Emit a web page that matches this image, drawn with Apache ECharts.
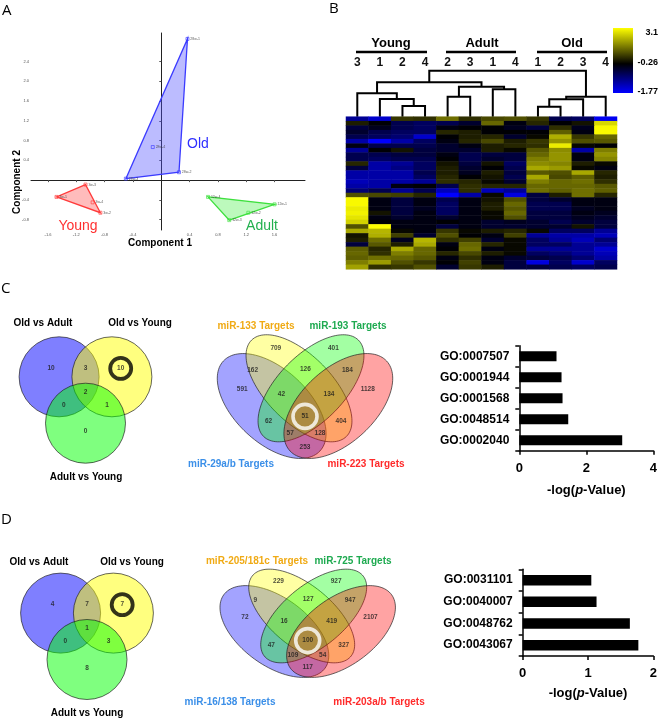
<!DOCTYPE html>
<html>
<head>
<meta charset="utf-8">
<script src="https://cdn.jsdelivr.net/npm/echarts@6/dist/echarts.min.js"></script>
<style>
  html, body { margin: 0; padding: 0; background: #fff; }
  #chart { width: 660px; height: 719px; }
</style>
</head>
<body>
<div id="chart"></div>
<script>
// ---------- A: PCA scores (component 1, component 2, sample) ----------
const oldPoints = [[0.37, 2.86, '28w-1'], [0.25, 0.16, '28w-2'], [-0.50, 0.03, '28w-3'], [-0.12, 0.67, '28w-4']]
const youngPoints = [[-1.48, -0.34, '3w-1'], [-0.86, -0.66, '3w-2'], [-1.07, -0.09, '3w-3'], [-0.97, -0.45, '3w-4']]
const adultPoints = [[1.60, -0.49, '12w-1'], [1.23, -0.66, '12w-2'], [0.96, -0.81, '12w-3'], [0.66, -0.34, '12w-4']]
const pcaXTicks = [-1.6, -1.2, -0.8, -0.4, 0.4, 0.8, 1.2, 1.6]
const pcaYTicks = [-0.8, -0.4, 0.4, 0.8, 1.2, 1.6, 2.0, 2.4]

// ---------- B: heatmap ----------
const sampleIds = ['Y3', 'Y1', 'Y2', 'Y4', 'A2', 'A3', 'A1', 'A4', 'O1', 'O2', 'O3', 'O4']
// dendrogram merges: [left node, right node, height]; leaves are 0..11, merge k is node 12+k
const dendroMerges = [
  [2, 3, 10.7], [1, 12, 17.7], [0, 13, 23.4],
  [4, 5, 20], [6, 7, 27.4], [15, 16, 30],
  [14, 17, 34.4],
  [8, 9, 10], [19, 10, 17.4], [20, 11, 20],
  [18, 21, 46]
]
const heatValues = [
  [-1.2, -1.5, 0.3, 0.2, 1.0, 0.2, 0.5, 0.6, 0.3, -0.8, -0.9, -1.7],
  [0.0, -0.3, -0.8, -0.9, -0.8, -0.6, 0.9, -0.4, 0.1, -0.3, -0.1, 2.5],
  [-0.7, -0.5, -0.8, -0.9, -0.4, -0.3, -0.3, -0.5, -0.7, 0.2, -0.5, 3.0],
  [-0.6, -0.8, -0.9, -0.9, 0.1, 0.0, -0.3, -0.3, -0.3, 0.8, -0.4, 3.0],
  [-0.8, -0.9, -1.0, -1.5, -0.3, 0.0, 0.1, -0.6, -0.2, 1.9, 0.3, 0.9],
  [-1.3, -1.77, -1.3, -0.9, -0.4, 0.1, 0.5, 0.0, 0.3, 1.5, 0.6, 0.7],
  [-0.4, -0.8, -0.8, -0.8, -0.6, -0.4, 0.0, 0.1, 0.2, 2.8, -0.2, -0.3],
  [-1.2, -0.3, -0.1, -0.7, -0.6, -0.6, 0.0, -0.2, 0.7, 1.4, -1.3, 1.2],
  [-0.8, -0.8, -0.7, -0.7, -0.4, -0.8, -0.7, -0.7, 0.9, 1.5, -0.4, 1.5],
  [-0.8, -0.9, -0.8, -0.8, -0.3, -0.8, -0.6, -0.7, 1.2, 1.5, -0.4, 1.3],
  [0.1, -1.3, -1.2, -0.9, -0.1, -0.7, -0.1, -0.9, 1.4, 1.3, 0.0, -0.2],
  [-0.7, -1.3, -1.1, -0.9, 0.0, -0.6, -0.3, -0.8, 1.8, 1.6, -0.2, -0.4],
  [-1.3, -1.3, -1.3, -0.8, 0.0, -0.5, 0.0, -0.7, 0.7, 0.6, 1.8, 0.1],
  [-1.3, -1.3, -1.3, -0.9, 0.1, -0.3, -0.1, -0.8, 1.8, 0.5, 0.8, 0.0],
  [-1.4, -1.3, -1.3, -1.2, 0.2, 0.1, -0.2, -0.6, 1.2, 0.9, 1.0, 0.2],
  [-1.3, -1.3, -0.4, -0.3, -0.8, 0.2, 0.1, 0.1, 0.9, 0.9, 0.9, 0.7],
  [-1.0, -0.8, -1.2, -0.8, -1.4, 0.2, -1.4, -1.2, 1.0, 0.8, 1.0, 0.8],
  [0.6, 0.5, 0.4, 0.1, -1.77, -1.3, -0.2, -1.6, -0.7, 0.0, 1.0, 0.1],
  [3.0, -0.4, -0.7, -0.4, -0.8, -0.4, -0.1, 0.6, -0.7, -0.6, -0.4, -0.4],
  [3.0, -0.4, -0.7, -0.4, -0.9, -0.4, 0.0, 0.9, -0.8, -0.8, -0.4, -0.4],
  [2.8, -0.4, -0.7, -0.5, -0.9, -0.4, 0.0, 0.7, -0.8, -0.8, -0.5, -0.4],
  [2.9, -0.1, -0.7, -0.4, -0.9, -0.4, -0.2, 0.9, -0.7, -0.7, -0.4, -0.5],
  [2.7, -0.4, -0.6, -0.4, -0.6, -0.4, -0.2, 0.6, -0.7, -0.7, -0.5, -0.6],
  [2.4, -0.3, -0.4, -0.4, -0.3, -0.4, -0.6, -0.5, -0.6, -0.8, -0.6, -0.7],
  [0.6, 3.1, -0.4, -0.4, -0.7, -0.4, -0.6, -0.6, -0.6, -0.6, -0.1, -0.7],
  [1.8, 2.0, -0.2, -0.4, 0.3, -0.2, 0.0, 0.1, -0.2, -0.9, -0.9, -1.2],
  [-0.1, 1.9, 0.4, -0.6, 0.6, -0.3, -0.4, 0.4, -1.2, -1.3, -1.3, -1.4],
  [0.0, 1.0, -0.5, 2.0, 0.2, 0.4, -0.6, -0.2, -0.9, -1.2, -1.4, -1.0],
  [-0.7, 0.7, 0.0, 1.8, -0.4, 0.9, 0.1, -0.2, -0.9, -0.9, -1.2, -1.2],
  [0.8, 0.1, 1.8, 0.9, -0.3, 1.0, -0.4, -0.2, -1.2, -1.2, -1.2, -1.5],
  [0.9, 0.2, 1.2, 0.9, 0.1, 0.5, 0.0, -0.2, -0.9, -1.0, -1.2, -1.4],
  [0.8, 1.0, 0.9, 0.7, -0.4, 0.2, -0.4, -0.6, -0.7, -0.8, -1.0, -1.3],
  [1.2, 1.6, 0.6, 0.3, -0.3, 0.4, -0.4, -0.7, -1.6, -0.9, -1.5, -0.9],
  [1.7, 0.2, 0.3, 0.6, -0.6, 0.3, 0.0, -0.7, -0.7, -0.8, -0.9, -0.8]
]
const heatMin = -1.77, heatMid = -0.26, heatMax = 3.1

// ---------- C / D: Venn counts ----------
// 3-set order: OA only, OA&OY, OY only, all, OA&AY, OY&AY, AY only
const venn3C = [10, 3, 10, 2, 0, 1, 0]
const venn3D = [4, 7, 7, 1, 0, 3, 8]
// 4-set order: A, B, C, D only, AB, BC, CD, ABC, BCD, AC, ABCD, BD, ACD, ABD, AD
const venn4C = [591, 709, 401, 1128, 162, 126, 184, 42, 134, 62, 51, 404, 57, 128, 253]
const venn4D = [72, 229, 927, 2107, 9, 127, 947, 16, 419, 47, 100, 327, 109, 54, 117]
const goCatsC = ['GO:0007507', 'GO:0001944', 'GO:0001568', 'GO:0048514', 'GO:0002040']
const goValsC = [1.11, 1.26, 1.29, 1.46, 3.07]
const goCatsD = ['GO:0031101', 'GO:0040007', 'GO:0048762', 'GO:0043067']
const goValsD = [1.05, 1.13, 1.64, 1.77]

// ---------- layout of the venn shapes (unit space) ----------
const v3Circles = [[-0.66, 0.38, 1, 'rgba(0,0,255,0.5)'], [0.66, 0.38, 1, 'rgba(255,255,0,0.5)'], [0, -0.78, 1, 'rgba(0,255,0,0.5)']]
const v3Spots = [[-0.86, 0.59], [0, 0.59], [0.88, 0.59], [0, 0], [-0.54, -0.33], [0.54, -0.33], [0, -0.99]]
const v4Ellipses = [
  [-0.833, 0, 1.65, 0.92, -43, 'rgba(0,0,255,0.36)'],
  [-0.15, 0.443, 1.69, 0.83, -45.5, 'rgba(255,255,0,0.36)'],
  [0.15, 0.443, 1.69, 0.83, 45.5, 'rgba(0,255,0,0.36)'],
  [0.833, 0, 1.65, 0.92, 43, 'rgba(255,0,0,0.36)']
]
const v4Spots = [[-1.57, 0.41], [-0.73, 1.44], [0.71, 1.44], [1.57, 0.41], [-1.31, 0.9], [0.01, 0.93], [1.06, 0.9],
  [-0.59, 0.29], [0.6, 0.29], [-0.91, -0.38], [0, -0.26], [0.9, -0.38], [-0.37, -0.69], [0.375, -0.69], [0, -1.02]]

const FONT = '"Liberation Sans", Arial, sans-serif'

function convexHull(pts) {
  const p = pts.map(d => [d[0], d[1]]).sort((a, b) => a[0] - b[0] || a[1] - b[1])
  const cross = (o, a, b) => (a[0] - o[0]) * (b[1] - o[1]) - (a[1] - o[1]) * (b[0] - o[0])
  const lower = [], upper = []
  for (const q of p) { while (lower.length >= 2 && cross(lower[lower.length - 2], lower[lower.length - 1], q) <= 0) lower.pop(); lower.push(q) }
  for (const q of p.slice().reverse()) { while (upper.length >= 2 && cross(upper[upper.length - 2], upper[upper.length - 1], q) <= 0) upper.pop(); upper.push(q) }
  return lower.slice(0, -1).concat(upper.slice(0, -1))
}

function heatColor(v) {
  if (v < heatMid) {
    const t = Math.pow(Math.min(1, (heatMid - v) / (heatMid - heatMin)), 1.15)
    return 'rgb(0,0,' + Math.round(255 * t) + ')'
  }
  const t = Math.pow(Math.min(1, (v - heatMid) / (heatMax - heatMid)), 0.85)
  const c = Math.round(255 * t)
  return 'rgb(' + c + ',' + c + ',0)'
}
const heatStops = []
for (let i = 0; i < 64; i++) heatStops.push(heatColor(heatMin + (heatMax - heatMin) * i / 63))

// node positions for the dendrogram
function nodeAt(id) {
  if (id < sampleIds.length) return [id, 0]
  const m = dendroMerges[id - sampleIds.length]
  return [(nodeAt(m[0])[0] + nodeAt(m[1])[0]) / 2, m[2]]
}

const pcaGroups = [
  { pts: oldPoints, stroke: '#3b3bff', fill: 'rgba(80,80,255,0.38)' },
  { pts: youngPoints, stroke: '#ff3b3b', fill: 'rgba(255,80,80,0.38)' },
  { pts: adultPoints, stroke: '#3ee03e', fill: 'rgba(80,240,80,0.38)' }
]

const hiddenValue = (gridIndex, min, max) => ({ gridIndex, type: 'value', min, max, show: false })

const grids = [
  { left: 31, top: 33, width: 274, height: 197 },        // 0 PCA
  { left: 346, top: 70.7, width: 271, height: 46 },      // 1 dendrogram
  { left: 346, top: 116.7, width: 271, height: 152.6 },  // 2 heatmap
  { left: 5.5, top: 312, width: 160, height: 160 },      // 3 venn3 C
  { left: 145, top: 306, width: 320, height: 200 },      // 4 venn4 C
  { left: 519.3, top: 345.7, width: 134.7, height: 105 },// 5 bars C
  { left: 7, top: 548.3, width: 160, height: 160 },      // 6 venn3 D
  { left: 147.7, top: 544, width: 320, height: 200 },    // 7 venn4 D
  { left: 522.7, top: 569.3, width: 131.3, height: 86.7 } // 8 bars D
]

const barXAxis = (gridIndex, max, interval, gap) => ({
  gridIndex, type: 'value', min: 0, max, interval,
  axisLine: { show: true, lineStyle: { color: '#000', width: 1.5 } },
  axisTick: { show: true, length: 4, lineStyle: { color: '#000', width: 1.5 } },
  axisLabel: { fontFamily: FONT, fontWeight: 'bold', fontSize: 13, color: '#000', margin: 11 },
  splitLine: { show: false },
  name: '-log({i|p}-Value)', nameLocation: 'middle', nameGap: gap,
  nameTextStyle: { fontFamily: FONT, fontWeight: 'bold', fontSize: 13, color: '#000',
    rich: { i: { fontFamily: FONT, fontWeight: 'bold', fontStyle: 'italic', fontSize: 13, color: '#000' } } }
})
const barYAxis = (gridIndex, cats) => ({
  gridIndex, type: 'category', data: cats, inverse: true,
  axisLine: { show: true, lineStyle: { color: '#000', width: 1.5 } },
  axisTick: { show: true, length: 4, lineStyle: { color: '#000', width: 1.5 } },
  axisLabel: { fontFamily: FONT, fontWeight: 'bold', fontSize: 12, color: '#000', margin: 10 }
})

const xAxes = [
  { gridIndex: 0, type: 'value', min: -1.84, max: 2.03,
    axisLine: { onZero: true, lineStyle: { color: '#222', width: 1 } },
    axisTick: { show: true, length: 2, customValues: pcaXTicks, lineStyle: { color: '#555' } },
    axisLabel: { customValues: pcaXTicks, fontSize: 4, color: '#555', margin: 3, formatter: v => v.toFixed(1) },
    splitLine: { show: false } },
  hiddenValue(1, -0.5, 11.5),
  { gridIndex: 2, type: 'category', data: sampleIds, position: 'top', offset: 46,
    axisLine: { show: false }, axisTick: { show: false },
    axisLabel: { formatter: v => v.slice(1), fontFamily: FONT, fontWeight: 'bold', fontSize: 12, color: '#111', margin: 2 } },
  hiddenValue(3, -2, 2),
  hiddenValue(4, -4, 4),
  barXAxis(5, 4, 2, 33),
  hiddenValue(6, -2, 2),
  hiddenValue(7, -4, 4),
  barXAxis(8, 2, 1, 31)
]
const yAxes = [
  { gridIndex: 0, type: 'value', min: -1.01, max: 2.98,
    axisLine: { onZero: true, lineStyle: { color: '#222', width: 1 } },
    axisTick: { show: true, length: 2, customValues: pcaYTicks, lineStyle: { color: '#555' } },
    axisLabel: { customValues: pcaYTicks, fontSize: 4, color: '#555', margin: 2, formatter: v => v.toFixed(1) },
    splitLine: { show: false } },
  hiddenValue(1, 0, 46),
  { gridIndex: 2, type: 'category', data: heatValues.map((r, i) => 'r' + i), inverse: true, show: false },
  hiddenValue(3, -2, 2),
  hiddenValue(4, -2.5, 2.5),
  barYAxis(5, goCatsC),
  hiddenValue(6, -2, 2),
  hiddenValue(7, -2.5, 2.5),
  barYAxis(8, goCatsD)
]

function vennSeries(gridIndex, shapes, spots, counts, ringIdx, ring) {
  const ellipse = shapes[0].length > 4
  return [
    {
      type: 'custom', xAxisIndex: gridIndex, yAxisIndex: gridIndex, silent: true, clip: false,
      data: shapes.map(s => [s[0], s[1]]),
      renderItem: (params, api) => {
        const s = shapes[params.dataIndex]
        const style = { fill: s[ellipse ? 5 : 3], stroke: 'rgba(30,30,30,0.85)', lineWidth: 0.8 }
        if (!ellipse) {
          const c = api.coord([s[0], s[1]])
          const r = api.size([s[2], 0])[0]
          return { type: 'circle', shape: { cx: c[0], cy: c[1], r }, style }
        }
        const th = s[4] * Math.PI / 180, pts = []
        for (let k = 0; k < 120; k++) {
          const t = k / 120 * Math.PI * 2
          const ux = s[2] * Math.cos(t), uy = s[3] * Math.sin(t)
          pts.push(api.coord([s[0] + ux * Math.cos(th) - uy * Math.sin(th), s[1] + ux * Math.sin(th) + uy * Math.cos(th)]))
        }
        return { type: 'polygon', shape: { points: pts }, style }
      }
    },
    {
      type: 'scatter', xAxisIndex: gridIndex, yAxisIndex: gridIndex, silent: true, clip: false,
      data: [spots[ringIdx]], symbol: 'circle', symbolSize: ring.size,
      itemStyle: { color: 'rgba(0,0,0,0)', borderColor: ring.color, borderWidth: ring.width }, z: 3
    },
    {
      type: 'scatter', xAxisIndex: gridIndex, yAxisIndex: gridIndex, silent: true, clip: false,
      data: spots.map((p, i) => [p[0], p[1], counts[i]]), symbolSize: 1,
      itemStyle: { color: 'rgba(0,0,0,0)' }, z: 4,
      label: { show: true, position: 'inside', formatter: p => String(p.value[2]),
        fontFamily: FONT, fontWeight: 'bold', fontSize: 6.5, color: '#1a1a1a' }
    }
  ]
}

const barSeries = (gridIndex, vals, w) => ({
  type: 'bar', xAxisIndex: gridIndex, yAxisIndex: gridIndex, data: vals, barWidth: w,
  itemStyle: { color: '#000' }, silent: true
})

const series = []
// A
series.push({
  type: 'custom', xAxisIndex: 0, yAxisIndex: 0, silent: true, clip: false,
  data: pcaGroups.map(() => [0, 0]),
  renderItem: (params, api) => {
    const g = pcaGroups[params.dataIndex]
    return { type: 'polygon', shape: { points: convexHull(g.pts).map(p => api.coord(p)) },
      style: { fill: g.fill, stroke: g.stroke, lineWidth: 1.3 } }
  }
})
pcaGroups.forEach(g => series.push({
  type: 'scatter', xAxisIndex: 0, yAxisIndex: 0, silent: true, data: g.pts,
  symbol: 'rect', symbolSize: 3, itemStyle: { color: 'rgba(0,0,0,0)', borderColor: g.stroke, borderWidth: 0.8 },
  label: { show: true, position: 'right', distance: 1, fontSize: 3.5, color: '#333', formatter: p => p.value[2] }
}))
// B
series.push({
  type: 'custom', xAxisIndex: 1, yAxisIndex: 1, silent: true, clip: false,
  data: dendroMerges.map(m => [0, m[2]]),
  renderItem: (params, api) => {
    const m = dendroMerges[params.dataIndex]
    const a = nodeAt(m[0]), b = nodeAt(m[1])
    return { type: 'polyline',
      shape: { points: [api.coord([a[0], a[1]]), api.coord([a[0], m[2]]), api.coord([b[0], m[2]]), api.coord([b[0], b[1]])] },
      style: { stroke: '#000', lineWidth: 2, fill: null } }
  }
})
const heatIndex = series.length
const heatData = []
heatValues.forEach((row, r) => row.forEach((v, c) => heatData.push([c, r, v])))
series.push({ type: 'heatmap', xAxisIndex: 2, yAxisIndex: 2, data: heatData, silent: true })
// C
series.push(...vennSeries(3, v3Circles, v3Spots, venn3C, 2, { size: 21, width: 3.8, color: '#000' }))
series.push(...vennSeries(4, v4Ellipses, v4Spots, venn4C, 10, { size: 24, width: 3.6, color: '#fff' }))
series.push(barSeries(5, goValsC, 10))
// D
series.push(...vennSeries(6, v3Circles, v3Spots, venn3D, 2, { size: 21, width: 3.8, color: '#000' }))
series.push(...vennSeries(7, v4Ellipses, v4Spots, venn4D, 10, { size: 24, width: 3.6, color: '#fff' }))
series.push(barSeries(8, goValsD, 10.5))

const txt = (text, x, y, font, fill, align, extra) => Object.assign({
  type: 'text', x, y, silent: true,
  style: { text, font, fill: fill || '#000', textAlign: align || 'center', textVerticalAlign: 'middle',
    align: align || 'center', verticalAlign: 'middle' }
}, extra || {})
const bold = s => 'bold ' + s + 'px ' + FONT
const letter = '15px "Open Sans", sans-serif'

const graphics = [
  txt('A', 2, 11, letter, '#000', 'left'),
  txt('B', 329, 9, letter, '#000', 'left'),
  txt('C', 1, 289, letter, '#000', 'left'),
  txt('D', 1, 520, letter, '#000', 'left'),
  // A
  txt('Old', 198, 144, '14px ' + FONT, '#3030ff'),
  txt('Young', 78, 226, '14px ' + FONT, '#ff3030'),
  txt('Adult', 262, 226, '14px ' + FONT, '#22b04e'),
  txt('Component 1', 160, 243, bold(10)),
  txt('Component 2', 17, 182, bold(10), '#000', 'center', { rotation: Math.PI / 2 }),
  // B
  txt('Young', 391, 43, bold(13)),
  txt('Adult', 482, 43, bold(13)),
  txt('Old', 572, 43, bold(13)),
  { type: 'line', silent: true, shape: { x1: 356, y1: 52, x2: 427, y2: 52 }, style: { stroke: '#000', lineWidth: 2.5 } },
  { type: 'line', silent: true, shape: { x1: 446, y1: 52, x2: 516, y2: 52 }, style: { stroke: '#000', lineWidth: 2.5 } },
  { type: 'line', silent: true, shape: { x1: 537, y1: 52, x2: 607, y2: 52 }, style: { stroke: '#000', lineWidth: 2.5 } },
  { type: 'rect', silent: true, shape: { x: 613, y: 28, width: 20, height: 65 },
    style: { fill: { type: 'linear', x: 0, y: 0, x2: 0, y2: 1,
      colorStops: [{ offset: 0, color: '#ffff00' }, { offset: 0.55, color: '#000000' }, { offset: 1, color: '#0000ff' }] } } },
  txt(String(heatMax), 658, 33, bold(9), '#000', 'right'),
  txt(String(heatMid), 658, 63, bold(9), '#000', 'right'),
  txt(String(heatMin), 658, 92, bold(9), '#000', 'right'),
  // C
  txt('Old vs Adult', 43, 323, bold(10)),
  txt('Old vs Young', 140, 323, bold(10)),
  txt('Adult vs Young', 86, 477, bold(10)),
  txt('miR-133 Targets', 256, 326, bold(10), '#f0aa14'),
  txt('miR-193 Targets', 348, 326, bold(10), '#1eaa50'),
  txt('miR-29a/b Targets', 231, 464, bold(10), '#3b8fe8'),
  txt('miR-223 Targets', 366, 464, bold(10), '#ff2a2a'),
  // D
  txt('Old vs Adult', 39, 562, bold(10)),
  txt('Old vs Young', 132, 562, bold(10)),
  txt('Adult vs Young', 87, 713, bold(10)),
  txt('miR-205/181c Targets', 257, 561, bold(10), '#f0aa14'),
  txt('miR-725 Targets', 353, 561, bold(10), '#1eaa50'),
  txt('miR-16/138 Targets', 230, 702, bold(10), '#3b8fe8'),
  txt('miR-203a/b Targets', 379, 702, bold(10), '#ff2a2a')
]

const chart = echarts.init(document.getElementById('chart'))
chart.setOption({
  animation: false,
  backgroundColor: '#fff',
  grid: grids,
  xAxis: xAxes,
  yAxis: yAxes,
  visualMap: { show: false, type: 'continuous', min: heatMin, max: heatMax, seriesIndex: heatIndex,
    dimension: 2, inRange: { color: heatStops } },
  graphic: graphics,
  series
})
</script>
</body>
</html>
